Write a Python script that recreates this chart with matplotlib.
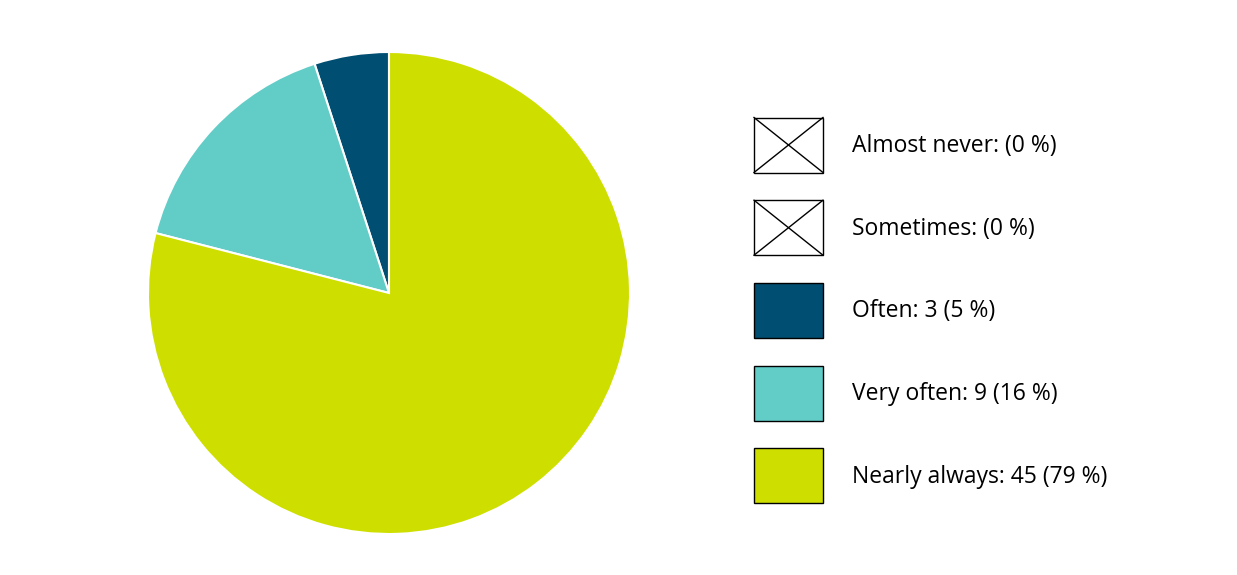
import matplotlib.pyplot as plt
from matplotlib.patches import Rectangle

# data
categories = ["Almost never", "Sometimes", "Often", "Very often", "Nearly always"]
counts = [0, 0, 3, 9, 45]
percents = [0, 0, 5, 16, 79]
colors = ["#ffffff", "#ffffff", "#004e71", "#62ccc7", "#cedf00"]

W, H = 1237, 575
fig = plt.figure(figsize=(W / 100, H / 100), dpi=100)
plt.rcParams['font.family'] = ['Open Sans', 'DejaVu Sans']

# pie from the rounded percentages (zero-valued slices are not drawn)
cx, cy, r = 389, 293, 241
ax = fig.add_axes([(cx - r) / W, (H - cy - r) / H, 2 * r / W, 2 * r / H])
vals = [p for p in percents if p > 0]
cols = [c for p, c in zip(percents, colors) if p > 0]
ax.pie(vals, colors=cols, startangle=90, counterclock=True, radius=1,
       wedgeprops=dict(edgecolor="white", linewidth=1.5))
ax.set_xlim(-1, 1)
ax.set_ylim(-1, 1)
ax.set_aspect("auto")
ax.axis("off")

# legend drawn by hand in pixel coordinates
lg = fig.add_axes([0, 0, 1, 1])
lg.set_xlim(0, W)
lg.set_ylim(H, 0)
lg.axis("off")
x0, y0, bw, bh, step = 754, 117.5, 69, 55, 82.7
for i, (cat, n, p, c) in enumerate(zip(categories, counts, percents, colors)):
    top = y0 + i * step
    lg.add_patch(Rectangle((x0, top), bw, bh, facecolor=c, edgecolor="black", linewidth=1))
    if n == 0:
        lg.plot([x0, x0 + bw], [top, top + bh], color="black", lw=1)
        lg.plot([x0, x0 + bw], [top + bh, top], color="black", lw=1)
        label = f"{cat}: ({p} %)"
    else:
        label = f"{cat}: {n} ({p} %)"
    lg.text(852, top + bh / 2 + 7, label, fontsize=16.5, va="baseline", ha="left", color="black")

fig.savefig("out.png", dpi=100)
